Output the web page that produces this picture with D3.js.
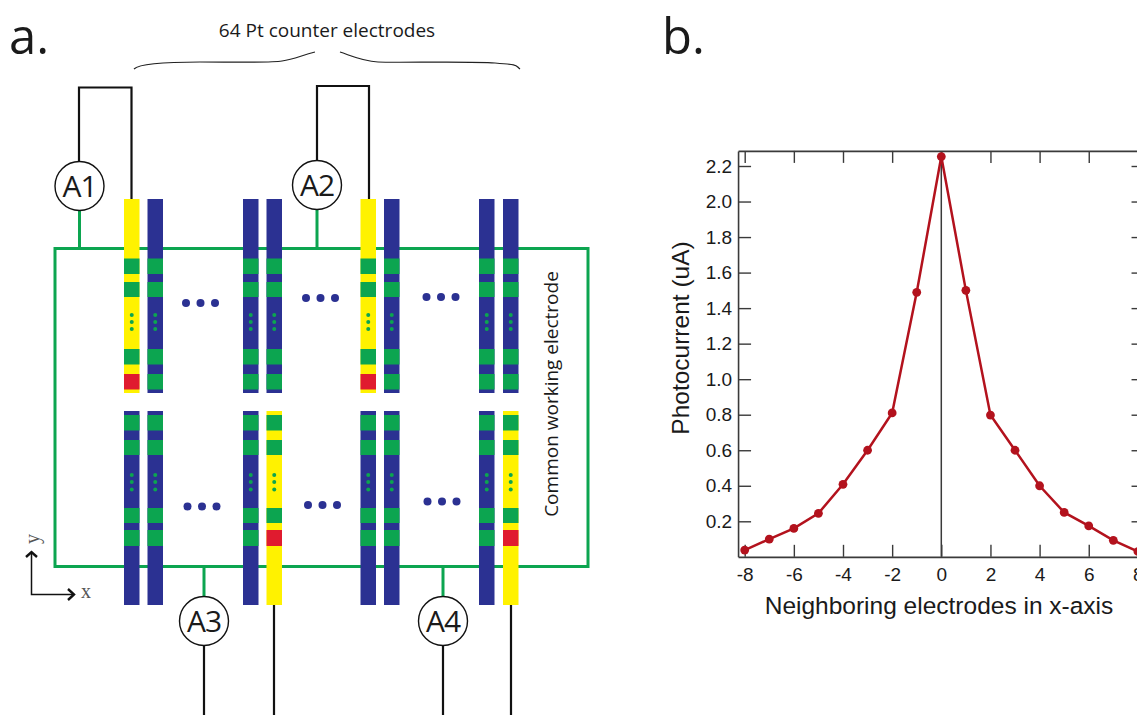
<!DOCTYPE html>
<html>
<head>
<meta charset="utf-8">
<script src="https://cdn.jsdelivr.net/npm/d3@7"></script>
<style>
  body { margin: 0; background: #fff; }
  svg { display: block; }
  .sans { font-family: "Open Sans", "Noto Sans", sans-serif; fill: #1a1a1a; }
  .plot text { font-family: "Liberation Sans", Arial, sans-serif; fill: #1a1a1a; }
</style>
</head>
<body>
<script>
// photocurrent
const electrodes = [-8, -7, -6, -5, -4, -3, -2, -1, 0, 1, 2, 3, 4, 5, 6, 7, 8];
const photocurrent = [0.038, 0.1, 0.16, 0.245, 0.408, 0.6, 0.81, 1.489, 2.253, 1.5, 0.798, 0.6, 0.4, 0.25, 0.174, 0.093, 0.03];
const xTicks = [-8, -6, -4, -2, 0, 2, 4, 6, 8];
const yTicks = [0.2, 0.4, 0.6, 0.8, 1.0, 1.2, 1.4, 1.6, 1.8, 2.0, 2.2];

const xLabel = "Neighboring electrodes in x-axis";
const yLabel = "Photocurrent (uA)";
const braceLabel = "64 Pt counter electrodes";
const sideLabel = "Common working electrode";

const width = 1137;
const height = 715;

const blue = "#2b3192";
const green = "#0ca550";
const yellow = "#fff200";
const red = "#e01b2f";
const wine = "#b3121d";
const ink = "#111";

let svg = d3.select("body").append("svg")
    .attr("width", width)
    .attr("height", height);

let drawSchematic = function(){
    let g = svg.append("g").attr("class", "schematic");

    // common working electrode
    g.append("rect")
        .attr("x", 55).attr("y", 248.5)
        .attr("width", 533).attr("height", 318)
        .attr("fill", "none").attr("stroke", green).attr("stroke-width", 3);

    let meters = [
        {name: "A1", cx: 79.5, cy: 186, side: -1, wire: "M79 162V87.5H131.5V199"},
        {name: "A2", cx: 317, cy: 185, side: -1, wire: "M317 161V86H369V199"},
        {name: "A3", cx: 204, cy: 621, side: 1, wire: "M204 646V715M274 605V715"},
        {name: "A4", cx: 443, cy: 621, side: 1, wire: "M443 646V715M511 605V715"}
    ];

    g.selectAll("path.wire").data(meters).enter().append("path")
        .attr("class", "wire")
        .attr("d", d => d.wire)
        .attr("fill", "none").attr("stroke", ink).attr("stroke-width", 2.2);

    g.selectAll("line.lead").data(meters).enter().append("line")
        .attr("class", "lead")
        .attr("x1", d => d.cx).attr("x2", d => d.cx)
        .attr("y1", d => d.side < 0 ? 248 : 567)
        .attr("y2", d => d.cy + d.side * -24)
        .attr("stroke", green).attr("stroke-width", 3);

    g.selectAll("circle.meter").data(meters).enter().append("circle")
        .attr("class", "meter")
        .attr("cx", d => d.cx).attr("cy", d => d.cy).attr("r", 24.5)
        .attr("fill", "#fff").attr("stroke", ink).attr("stroke-width", 1.4);

    g.selectAll("text.meter").data(meters).enter().append("text")
        .attr("class", "meter sans")
        .attr("x", d => d.cx).attr("y", d => d.cy + 11)
        .attr("text-anchor", "middle")
        .attr("font-size", 30)
        .attr("letter-spacing", -1)
        .text(d => d.name);

    // strips
    let stripX = [124, 147.5, 243, 266.5, 360.5, 384, 479, 503];
    let stripW = 15.5;
    let rows = [
        {top: 199, bottom: 393, lit: [0, 4], bands: [[258.5, 274], [282, 297], [349, 364.5], [374, 389.5]], redBand: 3, dots: [315, 322, 329]},
        {top: 411, bottom: 605, lit: [3, 7], bands: [[415, 430.5], [440, 455], [508, 523], [530, 546]], redBand: 3, dots: [475, 482, 489.5]}
    ];

    rows.forEach(function(row){
        let strips = g.append("g").selectAll("g")
            .data(stripX.map((x, i) => ({x, lit: row.lit.includes(i)})))
            .enter().append("g");

        strips.append("rect")
            .attr("x", d => d.x).attr("y", row.top)
            .attr("width", stripW).attr("height", row.bottom - row.top)
            .attr("fill", d => d.lit ? yellow : blue);

        row.bands.forEach(function(band, b){
            strips.append("rect")
                .attr("x", d => d.x).attr("y", band[0])
                .attr("width", stripW).attr("height", band[1] - band[0])
                .attr("fill", d => d.lit && b === row.redBand ? red : green);
        });

        row.dots.forEach(function(y){
            strips.append("circle")
                .attr("cx", d => d.x + stripW / 2).attr("cy", y).attr("r", 2)
                .attr("fill", green);
        });
    });

    // ellipsis between the strips
    let gaps = [[200.5, 303], [320.5, 298], [441, 297], [202, 506.5], [322.5, 505], [442, 501.5]];
    gaps.forEach(function(gap){
        g.append("g").selectAll("circle")
            .data([-14.5, 0, 14.5])
            .enter().append("circle")
            .attr("cx", d => gap[0] + d).attr("cy", gap[1]).attr("r", 4)
            .attr("fill", blue);
    });

    // braces
    g.append("path")
        .attr("d", "M134 69C140 63 170 62 200 62S270 63 282 61S300 56 315 52M340 52C352 56 362 61 378 62S470 61 495 63S515 65 520 69")
        .attr("fill", "none").attr("stroke", "#222").attr("stroke-width", 1.2);

    // x-y arrows
    g.append("path")
        .attr("d", "M31.5 552V594.5H73")
        .attr("fill", "none").attr("stroke", ink).attr("stroke-width", 1.5);
    g.append("path")
        .attr("d", "M26 557L31.5 552L37 557M68 589L74 594.5L68 600")
        .attr("fill", "none").attr("stroke", ink).attr("stroke-width", 2.4);
    g.append("text")
        .attr("x", 81).attr("y", 598)
        .attr("font-family", "Liberation Serif").attr("font-size", 20).attr("fill", "#555")
        .text("x");
    g.append("text")
        .attr("transform", "translate(39,544) rotate(-90)")
        .attr("font-family", "Liberation Serif").attr("font-size", 20).attr("fill", "#555")
        .text("y");

    // labels
    g.append("text").attr("class", "sans")
        .attr("x", 9).attr("y", 54).attr("font-size", 49)
        .text("a.");
    g.append("text").attr("class", "sans")
        .attr("x", 662).attr("y", 54).attr("font-size", 49)
        .text("b.");
    g.append("text").attr("class", "sans")
        .attr("x", 327).attr("y", 37).attr("text-anchor", "middle").attr("font-size", 19)
        .text(braceLabel);
    g.append("text").attr("class", "sans")
        .attr("transform", "translate(558,394) rotate(-90)")
        .attr("text-anchor", "middle").attr("font-size", 19)
        .text(sideLabel);
}

let drawPlot = function(){
    let x = d3.scaleLinear().domain([-8, 8]).range([744.7, 1137.9]);
    let y = d3.scaleLinear().domain([0.2, 2.2]).range([521.3, 166]);

    let left = x(-8.27);
    let right = x(8.27);
    let top = y(2.285);
    let bottom = y(0);
    let frame = "#3a3a3a";

    let g = svg.append("g").attr("class", "plot");

    let styleAxis = function(axis){
        axis.select(".domain").attr("stroke", frame).attr("stroke-width", 1.6);
        axis.selectAll(".tick line").attr("stroke", frame).attr("stroke-width", 1.4);
        axis.selectAll(".tick text").attr("font-size", 19);
    }

    let xRange = d3.scaleLinear().domain([-8.27, 8.27]).range([left, right]);
    let yRange = d3.scaleLinear().domain([0, 2.285]).range([bottom, top]);

    g.append("g").attr("transform", `translate(0,${bottom})`)
        .call(d3.axisBottom(xRange).tickValues(xTicks).tickFormat(d => String(d)).tickSize(-12).tickPadding(11).tickSizeOuter(0))
        .call(styleAxis);

    g.append("g").attr("transform", `translate(0,${top})`)
        .call(d3.axisTop(xRange).tickValues(xTicks).tickFormat("").tickSize(-12).tickSizeOuter(0))
        .call(styleAxis);

    g.append("g").attr("transform", `translate(${left},0)`)
        .call(d3.axisLeft(yRange).tickValues(yTicks).tickFormat(d3.format(".1f")).tickSize(-13).tickPadding(6).tickSizeOuter(0))
        .call(styleAxis);

    g.append("g").attr("transform", `translate(${right},0)`)
        .call(d3.axisRight(yRange).tickValues(yTicks).tickFormat("").tickSize(-13).tickSizeOuter(0))
        .call(styleAxis);

    // axis sets its own font on the group, drop it so the css font applies
    g.selectAll("g").attr("font-family", null).attr("font-size", null);

    // zero line
    g.append("line")
        .attr("x1", x(0)).attr("x2", x(0))
        .attr("y1", top).attr("y2", bottom)
        .attr("stroke", frame).attr("stroke-width", 1.5);

    let points = electrodes.map((e, i) => ({e, v: photocurrent[i]}));

    g.append("path")
        .datum(points)
        .attr("d", d3.line().x(d => x(d.e)).y(d => y(d.v)))
        .attr("fill", "none").attr("stroke", wine).attr("stroke-width", 2.5);

    g.selectAll("circle").data(points).enter().append("circle")
        .attr("cx", d => x(d.e)).attr("cy", d => y(d.v)).attr("r", 4.4)
        .attr("fill", wine);

    g.append("text")
        .attr("x", 939).attr("y", 614)
        .attr("text-anchor", "middle").attr("font-size", 24.5)
        .text(xLabel);

    g.append("text")
        .attr("transform", "translate(689,338) rotate(-90)")
        .attr("text-anchor", "middle").attr("font-size", 24.5)
        .text(yLabel);
}

drawSchematic();
drawPlot();
</script>
</body>
</html>
